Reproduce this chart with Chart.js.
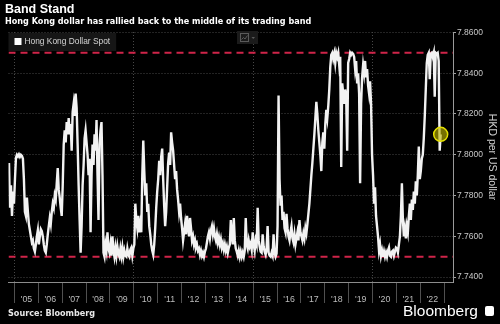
<!DOCTYPE html>
<html>
<head>
<meta charset="utf-8">
<title>Band Stand</title>
<script src="https://cdn.jsdelivr.net/npm/chart.js@4.4.1/dist/chart.umd.min.js"></script>
<style>
  html, body { margin: 0; padding: 0; background: #000; }
  #wrap { position: relative; width: 500px; height: 324px; overflow: hidden; background: #000; }
  #hkdChart { position: absolute; left: 0; top: 0; }
  .txt { position: absolute; white-space: nowrap; color: #fff; }
  #title { left: 5px; top: 3px; font: bold 12.5px/12.5px "Liberation Sans", Arial, sans-serif; }
  #subtitle { left: 5px; top: 17px; font: bold 8.1px/8.1px "DejaVu Sans", sans-serif; }
  #source { left: 8px; top: 308.5px; font: bold 8.1px/8.1px "DejaVu Sans", sans-serif; color: #e8e8e8; }
  #logo { left: 403px; top: 303px; font: 15.5px/15.5px "Liberation Sans", Arial, sans-serif; }
  #logoIcon { position: absolute; left: 485px; top: 306px; width: 9px; height: 10px; background: #fff; border-radius: 2px; }
</style>
</head>
<body>
<div id="wrap">
  <canvas id="hkdChart" width="500" height="324"></canvas>
  <div class="txt" id="title">Band Stand</div>
  <div class="txt" id="subtitle">Hong Kong dollar has rallied back to the middle of its trading band</div>
  <div class="txt" id="source">Source: Bloomberg</div>
  <div class="txt" id="logo">Bloomberg</div>
  <div id="logoIcon"></div>
</div>
<script>
const seriesLabel = 'Hong Kong Dollar Spot';
const yAxisTitle = 'HKD per US dollar';

// year boundaries on the x axis and the labels shown between them
const yearTicks = [2005, 2006, 2007, 2008, 2009, 2010, 2011, 2012, 2013, 2014, 2015, 2016, 2017, 2018, 2019, 2020, 2021, 2022, 2023];
const yearLabels = ["'05", "'06", "'07", "'08", "'09", "'10", "'11", "'12", "'13", "'14", "'15", "'16", "'17", "'18", "'19", "'20", "'21", "'22", ''];
const gridYears = [2005, 2010, 2015, 2020];
const yTickValues = [7.74, 7.76, 7.78, 7.80, 7.82, 7.84, 7.86];

// convertibility band
const weakSide = 7.85;
const strongSide = 7.75;

// HKD spot, read off the chart roughly twice a month
const hkd2004 = [7.7960, 7.7740, 7.7850, 7.7700, 7.7820, 7.7760]; // Oct - Dec only
const hkd2005 = [7.7880, 7.7985, 7.8000, 7.7992, 7.8002, 7.7990, 7.8000, 7.7995, 7.7980, 7.7880, 7.7720, 7.7700, 7.7790, 7.7720, 7.7660, 7.7630, 7.7600, 7.7570, 7.7580, 7.7540, 7.7525, 7.7560, 7.7600, 7.7630];
const hkd2006 = [7.7560, 7.7600, 7.7635, 7.7625, 7.7600, 7.7560, 7.7530, 7.7520, 7.7560, 7.7610, 7.7650, 7.7690, 7.7660, 7.7720, 7.7760, 7.7740, 7.7800, 7.7780, 7.7860, 7.7935, 7.7830, 7.7790, 7.7740, 7.7700];
const hkd2007 = [7.7850, 7.8050, 7.8120, 7.8060, 7.8160, 7.8100, 7.8180, 7.8100, 7.8150, 7.8020, 7.8210, 7.8250, 7.8190, 7.8300, 7.8230, 7.8050, 7.7850, 7.7680, 7.7520, 7.7650, 7.7850, 7.7950, 7.8080, 7.8120];
const hkd2008 = [7.8060, 7.8000, 7.7900, 7.7980, 7.7620, 7.7900, 7.8050, 7.7950, 7.8100, 7.8020, 7.8170, 7.7900, 7.7680, 7.8050, 7.8120, 7.8160, 7.7900, 7.7520, 7.7500, 7.7560, 7.7530, 7.7620, 7.7540, 7.7520];
const hkd2009 = [7.7560, 7.7505, 7.7600, 7.7530, 7.7500, 7.7545, 7.7505, 7.7550, 7.7515, 7.7500, 7.7540, 7.7505, 7.7545, 7.7500, 7.7530, 7.7505, 7.7500, 7.7540, 7.7510, 7.7500, 7.7535, 7.7545, 7.7505, 7.7540];
const hkd2010 = [7.7560, 7.7760, 7.7680, 7.7640, 7.7700, 7.7620, 7.7660, 7.7620, 7.7900, 7.8070, 7.7920, 7.7800, 7.7860, 7.7720, 7.7760, 7.7650, 7.7610, 7.7560, 7.7530, 7.7510, 7.7560, 7.7640, 7.7740, 7.7820];
const hkd2011 = [7.7880, 7.7970, 7.7900, 7.7990, 7.8030, 7.7880, 7.7750, 7.7650, 7.7720, 7.7840, 7.7960, 7.8010, 7.7950, 7.8110, 7.8060, 7.8020, 7.7950, 7.7880, 7.7920, 7.7830, 7.7780, 7.7720, 7.7760, 7.7690];
const hkd2012 = [7.7640, 7.7580, 7.7620, 7.7660, 7.7610, 7.7700, 7.7650, 7.7600, 7.7690, 7.7640, 7.7580, 7.7600, 7.7560, 7.7580, 7.7545, 7.7560, 7.7530, 7.7540, 7.7510, 7.7530, 7.7505, 7.7520, 7.7500, 7.7525];
const hkd2013 = [7.7540, 7.7570, 7.7600, 7.7620, 7.7590, 7.7630, 7.7650, 7.7610, 7.7640, 7.7600, 7.7580, 7.7610, 7.7570, 7.7595, 7.7560, 7.7585, 7.7545, 7.7565, 7.7535, 7.7560, 7.7530, 7.7550, 7.7520, 7.7545];
const hkd2014 = [7.7560, 7.7680, 7.7600, 7.7560, 7.7690, 7.7580, 7.7540, 7.7525, 7.7505, 7.7530, 7.7500, 7.7525, 7.7500, 7.7520, 7.7500, 7.7530, 7.7690, 7.7560, 7.7540, 7.7580, 7.7550, 7.7565, 7.7535, 7.7620];
const hkd2015 = [7.7560, 7.7530, 7.7580, 7.7560, 7.7740, 7.7580, 7.7550, 7.7525, 7.7520, 7.7610, 7.7550, 7.7525, 7.7510, 7.7540, 7.7650, 7.7520, 7.7505, 7.7500, 7.7520, 7.7505, 7.7610, 7.7520, 7.7500, 7.7515];
const hkd2016 = [7.7650, 7.8290, 7.7880, 7.7750, 7.7800, 7.7680, 7.7720, 7.7640, 7.7620, 7.7710, 7.7640, 7.7600, 7.7580, 7.7620, 7.7650, 7.7590, 7.7570, 7.7610, 7.7560, 7.7590, 7.7620, 7.7580, 7.7680, 7.7620];
const hkd2017 = [7.7600, 7.7580, 7.7615, 7.7590, 7.7640, 7.7615, 7.7660, 7.7710, 7.7760, 7.7830, 7.7900, 7.7960, 7.8030, 7.8100, 7.8180, 7.8260, 7.8200, 7.8120, 7.8060, 7.8000, 7.7920, 7.8060, 7.8110, 7.8030];
const hkd2018 = [7.8150, 7.8220, 7.8180, 7.8240, 7.8320, 7.8430, 7.8490, 7.8500, 7.8470, 7.8495, 7.8450, 7.8500, 7.8480, 7.8500, 7.8440, 7.8480, 7.7940, 7.8350, 7.8300, 7.8250, 7.8320, 7.8280, 7.8020, 7.8450];
const hkd2019 = [7.8470, 7.8500, 7.8490, 7.8500, 7.8495, 7.8480, 7.8420, 7.8460, 7.8350, 7.8400, 7.8300, 7.7860, 7.8250, 7.8380, 7.8440, 7.8400, 7.8460, 7.8380, 7.8420, 7.8340, 7.8300, 7.8360, 7.8250, 7.8000];
const hkd2020 = [7.7900, 7.7760, 7.7840, 7.7700, 7.7650, 7.7600, 7.7530, 7.7560, 7.7505, 7.7530, 7.7500, 7.7525, 7.7500, 7.7520, 7.7500, 7.7530, 7.7545, 7.7505, 7.7500, 7.7525, 7.7530, 7.7505, 7.7525, 7.7545];
const hkd2021 = [7.7540, 7.7520, 7.7560, 7.7600, 7.7700, 7.7860, 7.7680, 7.7600, 7.7640, 7.7590, 7.7650, 7.7620, 7.7700, 7.7760, 7.7680, 7.7780, 7.7730, 7.7820, 7.7760, 7.7870, 7.7800, 7.7900, 7.8040, 7.7880];
const hkd2022 = [7.7920, 7.7980, 7.8000, 7.8080, 7.8190, 7.8320, 7.8450, 7.8490, 7.8500, 7.8370, 7.8495, 7.8500, 7.8480, 7.8500, 7.8285, 7.8500, 7.8495, 7.8500, 7.8460, 7.8020, 7.8100]; // to mid Nov

// [year, values, first half-month slot]
const hkdYears = [
  [2004, hkd2004, 18], [2005, hkd2005, 0], [2006, hkd2006, 0], [2007, hkd2007, 0],
  [2008, hkd2008, 0], [2009, hkd2009, 0], [2010, hkd2010, 0], [2011, hkd2011, 0],
  [2012, hkd2012, 0], [2013, hkd2013, 0], [2014, hkd2014, 0], [2015, hkd2015, 0],
  [2016, hkd2016, 0], [2017, hkd2017, 0], [2018, hkd2018, 0], [2019, hkd2019, 0],
  [2020, hkd2020, 0], [2021, hkd2021, 0], [2022, hkd2022, 0]
];

const xMin = 2004.75;
const xMax = 2023.37;
const yMin = 7.7376;
const yMax = 7.8602;

function buildPoints() {
  const pts = [];
  hkdYears.forEach(([year, values, slot]) => {
    values.forEach((v, i) => {
      pts.push({ x: year + (slot + i + 0.5) / 24, y: v });
    });
  });
  return pts;
}

const hkdPoints = buildPoints();
const latestPoint = hkdPoints[hkdPoints.length - 1];

const bandLine = (level) => [{ x: xMin, y: level }, { x: xMax, y: level }];

const fontFamily = '"Liberation Sans", Arial, sans-serif';

// Bloomberg-style legend box in the top left corner of the plot, plus the chart-type button
const chartChrome = {
  id: 'chartChrome',
  beforeDatasetsDraw(chart) {
    const ctx = chart.ctx;
    const area = chart.chartArea;
    const ds = chart.data.datasets.find((d) => d.label === seriesLabel);
    ctx.save();
    ctx.font = '8.4px ' + fontFamily;
    const textW = ctx.measureText(ds.label).width;
    ctx.fillStyle = '#161616';
    ctx.fillRect(area.left, area.top + 1, textW + 22, 18);
    ctx.fillStyle = ds.backgroundColor;
    ctx.fillRect(area.left + 6, area.top + 6, 7, 7);
    ctx.fillStyle = '#d4d4d4';
    ctx.textBaseline = 'middle';
    ctx.fillText(ds.label, area.left + 16, area.top + 10);

    ctx.fillStyle = '#1b1b1b';
    ctx.fillRect(237, 31, 21, 13);
    ctx.strokeStyle = '#5a5a5a';
    ctx.lineWidth = 1;
    ctx.strokeRect(240.5, 33.5, 8, 8);
    ctx.beginPath();
    ctx.moveTo(241.5, 39.5); ctx.lineTo(243.5, 37.5); ctx.lineTo(245, 39); ctx.lineTo(247.5, 35.5);
    ctx.stroke();
    ctx.fillStyle = '#5a5a5a';
    ctx.beginPath();
    ctx.moveTo(251.5, 37); ctx.lineTo(255, 37); ctx.lineTo(253.25, 39);
    ctx.fill();
    ctx.restore();
  }
};

const ctx = document.getElementById('hkdChart').getContext('2d');

const hkdChart = new Chart(ctx, {
  type: 'line',
  data: {
    datasets: [
      {
        label: 'Latest',
        data: [latestPoint],
        showLine: false,
        pointRadius: 7,
        pointBackgroundColor: 'rgba(190, 180, 0, 0.62)',
        pointBorderColor: '#e4e000',
        pointBorderWidth: 1.5,
        order: 1
      },
      {
        label: seriesLabel,
        data: hkdPoints,
        borderColor: '#f2f2f2',
        backgroundColor: '#ffffff',
        borderWidth: 2.4,
        pointRadius: 0,
        tension: 0,
        order: 2
      },
      {
        label: 'Weak side',
        data: bandLine(weakSide),
        borderColor: '#cf2449',
        borderWidth: 2,
        borderDash: [7, 5],
        pointRadius: 0,
        order: 3
      },
      {
        label: 'Strong side',
        data: bandLine(strongSide),
        borderColor: '#cf2449',
        borderWidth: 2,
        borderDash: [7, 5],
        pointRadius: 0,
        order: 3
      }
    ]
  },
  options: {
    responsive: false,
    animation: false,
    layout: { padding: { left: 5, top: 32, right: 0, bottom: 0 } },
    plugins: {
      tooltip: { enabled: false },
      legend: { display: false }
    },
    scales: {
      x: {
        type: 'linear',
        min: xMin,
        max: xMax,
        afterBuildTicks: (scale) => { scale.ticks = yearTicks.map((v) => ({ value: v })); },
        afterFit: (scale) => { scale.height = 42; },
        ticks: {
          autoSkip: false,
          maxRotation: 0,
          labelOffset: 12,
          padding: -9,
          color: '#bdbdbd',
          font: { size: 8.8, family: fontFamily },
          callback: (v, i) => yearLabels[i]
        },
        grid: {
          color: (c) => (c.tick && gridYears.includes(c.tick.value)) ? '#474747' : 'rgba(0,0,0,0)',
          tickColor: '#505050',
          tickLength: 21,
          tickBorderDash: []
        },
        border: { display: true, color: '#8c8c8c', width: 1, dash: [1, 2] }
      },
      y: {
        position: 'right',
        min: yMin,
        max: yMax,
        afterBuildTicks: (scale) => { scale.ticks = yTickValues.map((v) => ({ value: v })); },
        afterFit: (scale) => { scale.width = 47; },
        ticks: {
          padding: 1,
          color: '#c8c8c8',
          font: { size: 8.5, family: fontFamily },
          callback: (v) => Number(v).toFixed(4)
        },
        grid: {
          color: '#474747',
          tickColor: '#a0a0a0',
          tickLength: 3,
          tickBorderDash: []
        },
        border: { display: true, color: '#9a9a9a', width: 1, dash: [1, 2] },
        title: {
          display: true,
          text: yAxisTitle,
          color: '#d0d0d0',
          font: { size: 10.5, family: fontFamily },
          padding: { top: 2, bottom: 0 }
        }
      }
    }
  },
  plugins: [chartChrome]
});
</script>
</body>
</html>
